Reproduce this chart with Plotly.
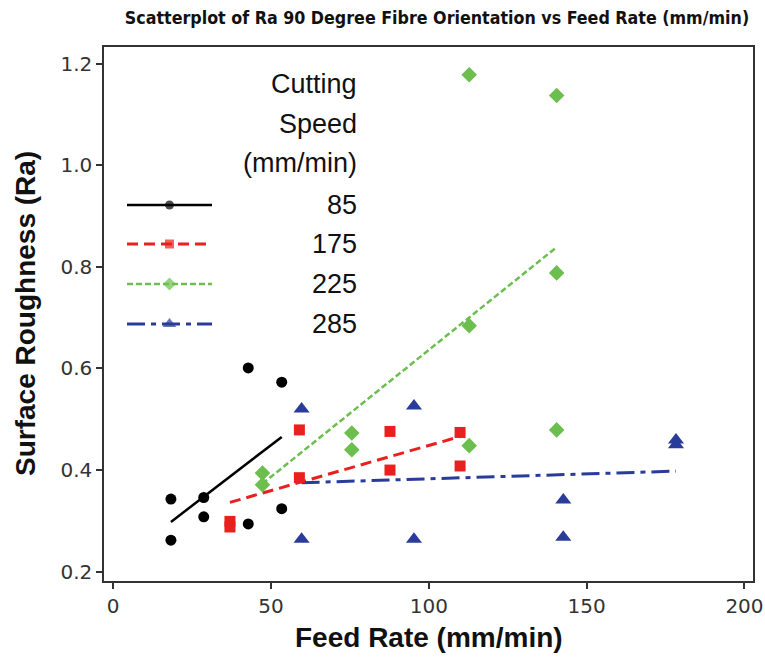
import numpy as np
import plotly.graph_objects as go

# ---- data ----
speeds = ["85", "175", "225", "285"]

feed_85 = [18.3, 18.3, 28.7, 28.7, 42.8, 42.8, 53.4, 53.4]
ra_85 = [0.343, 0.262, 0.346, 0.308, 0.601, 0.294, 0.573, 0.324]

feed_175 = [37.0, 37.0, 59.0, 59.0, 87.7, 87.7, 109.9, 109.9]
ra_175 = [0.299, 0.288, 0.479, 0.385, 0.476, 0.400, 0.474, 0.408]

feed_225 = [47.3, 47.3, 75.6, 75.6, 112.8, 112.8, 112.8, 140.5, 140.5, 140.5]
ra_225 = [0.394, 0.371, 0.473, 0.440, 1.178, 0.684, 0.448, 1.137, 0.788, 0.479]

feed_285 = [59.7, 59.7, 95.3, 95.3, 142.6, 142.6, 178.3, 178.3]
ra_285 = [0.520, 0.264, 0.526, 0.264, 0.341, 0.268, 0.459, 0.450]

x_ticks = [0, 50, 100, 150, 200]
y_ticks = [0.2, 0.4, 0.6, 0.8, 1.0, 1.2]

# ---- styles ----
colors = ["#000000", "#E8201E", "#6CBF4F", "#2A3C99"]
symbols = ["circle", "square", "diamond", "triangle-up"]
msizes = [11, 11, 12, 14]
dashes = ["solid", "11px,6px", "6px,3px", "18px,6px,5px,6px"]
lwidths = [2.5, 3, 2.5, 3]

groups = [(feed_85, ra_85), (feed_175, ra_175), (feed_225, ra_225), (feed_285, ra_285)]

W, H = 765, 659
# plot area in window pixels: x 104..753, y 47..581
ml, mt = 104, 47
mr = W - 753
mb = H - 581
pw, ph = W - ml - mr, H - mt - mb

fig = go.Figure()

# regression lines
for (fx, fy), c, d, lw in zip(groups, colors, dashes, lwidths):
    k, b = np.polyfit(fx, fy, 1)
    xs = np.array([min(fx), max(fx)])
    fig.add_trace(go.Scatter(x=xs, y=k * xs + b, mode="lines",
                             line=dict(color=c, width=lw, dash=d),
                             showlegend=False, hoverinfo="skip"))

# points
for (fx, fy), c, s, ms, name in zip(groups, colors, symbols, msizes, speeds):
    fig.add_trace(go.Scatter(x=fx, y=fy, mode="markers", name=name,
                             marker=dict(color=c, symbol=s, size=ms, line=dict(width=0)),
                             showlegend=False))

# ---- manual legend (overlay axes spanning the plot area 0..1) ----
def px_x(p):  # window pixel -> plot-area fraction
    return (p - ml) / pw

def px_y(p):
    return (H - mb - p) / ph

leg_x0, leg_x1, leg_xm = px_x(127), px_x(212), px_x(169.5)
leg_text_x = px_x(359)
leg_rows = [205, 244, 284, 324]
title_rows = [84, 124, 163]
title_lines = ["Cutting", "Speed", "(mm/min)"]

for i, (c, s, ms, d, lw) in enumerate(zip(colors, symbols, msizes, dashes, lwidths)):
    yy = px_y(leg_rows[i])
    fig.add_trace(go.Scatter(x=[leg_x0, leg_xm, leg_x1], y=[yy, yy, yy],
                             xaxis="x2", yaxis="y2", mode="lines+markers",
                             line=dict(color=c, width=lw, dash=d),
                             marker=dict(color=c, symbol=s, size=[0, ms - 2, 0], line=dict(width=0)),
                             showlegend=False, hoverinfo="skip"))

annotations = []
legfont = dict(family="Liberation Sans, Arial, sans-serif", size=27, color="#111111")
for t, r in zip(title_lines, title_rows):
    annotations.append(dict(text=t, x=leg_text_x, y=px_y(r), xref="paper", yref="paper",
                            xanchor="right", yanchor="middle", showarrow=False, font=legfont))
for t, r in zip(speeds, leg_rows):
    annotations.append(dict(text=t, x=leg_text_x, y=px_y(r), xref="paper", yref="paper",
                            xanchor="right", yanchor="middle", showarrow=False, font=legfont))

axfont = dict(family="Liberation Sans, Arial, sans-serif", size=28, color="#111111")
# y axis title
annotations.append(dict(text="<b>Surface Roughness (Ra)</b>", x=px_x(25), y=px_y(314),
                        xref="paper", yref="paper", textangle=-90, showarrow=False,
                        xanchor="center", yanchor="middle", font=axfont))
# x axis title
annotations.append(dict(text="<b>Feed Rate (mm/min)</b>", x=px_x(429), y=px_y(637),
                        xref="paper", yref="paper", showarrow=False,
                        xanchor="center", yanchor="middle", font=axfont))

tickfont = dict(family="DejaVu Sans, sans-serif", size=20, color="#333333")
axis_common = dict(showline=True, linecolor="#333333", linewidth=1.5, mirror=True,
                   ticks="outside", ticklen=6, tickwidth=1.5, tickcolor="#333333",
                   showgrid=False, zeroline=False, tickfont=tickfont, automargin=False)

fig.update_layout(
    width=W, height=H,
    margin=dict(l=ml, r=mr, t=mt, b=mb, autoexpand=False),
    paper_bgcolor="white", plot_bgcolor="white",
    title=dict(text="<b>Scatterplot of Ra 90 Degree Fibre Orientation vs Feed Rate (mm/min)</b>",
               x=437 / W, xanchor="center", y=1 - 18 / H, yanchor="middle",
               font=dict(family="DejaVu Sans Condensed, DejaVu Sans, sans-serif", size=17.7, color="#111111")),
    xaxis=dict(range=[-2.9, 202.7], tickvals=x_ticks, ticktext=[str(v) for v in x_ticks], **axis_common),
    yaxis=dict(range=[0.1817, 1.2325], tickvals=y_ticks, ticktext=[f"{v:.1f}" for v in y_ticks], **axis_common),
    xaxis2=dict(overlaying="x", range=[0, 1], visible=False),
    yaxis2=dict(overlaying="y", range=[0, 1], visible=False),
    annotations=annotations,
    showlegend=False,
)

# remove the default 8px page margin so the figure fills the window exactly
fig.write_html("out.html", config={"displayModeBar": False},
               post_script="document.body.style.margin='0';document.body.style.overflow='hidden';")
